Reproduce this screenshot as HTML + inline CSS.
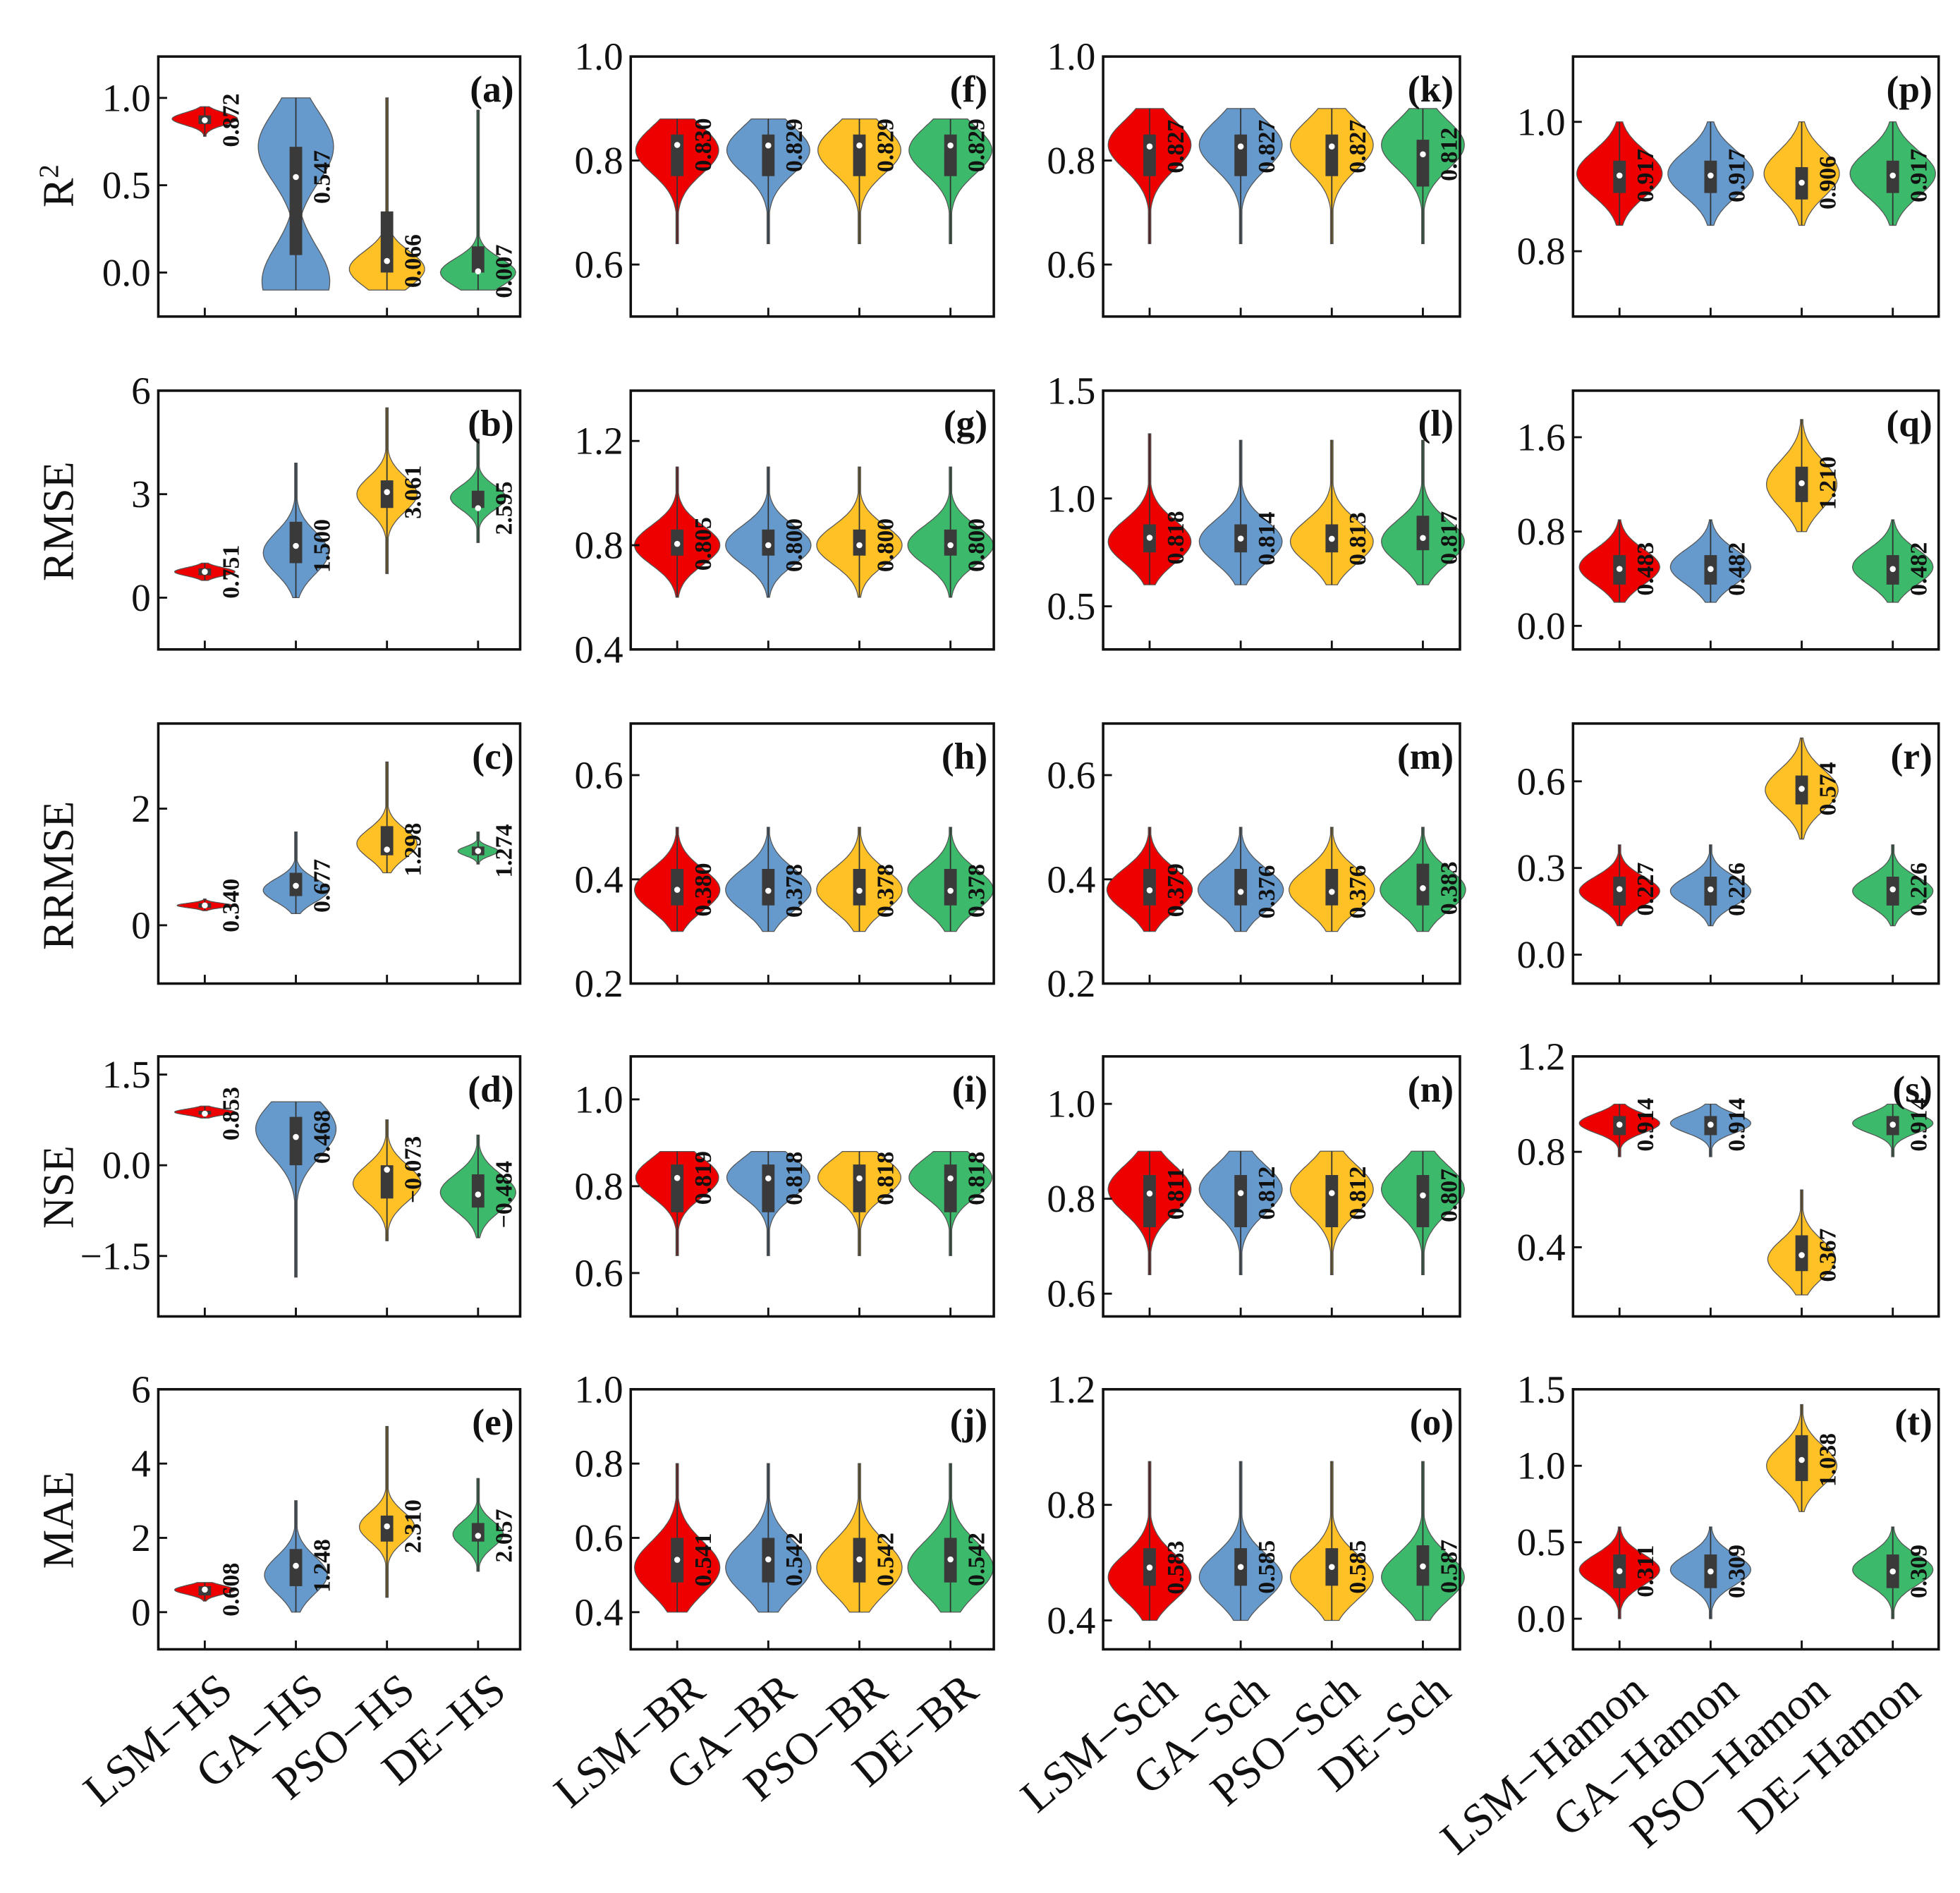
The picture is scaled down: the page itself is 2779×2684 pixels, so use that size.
<!DOCTYPE html>
<html><head><meta charset="utf-8">
<style>
html,body{margin:0;padding:0;background:#fff;}
svg{display:block;}
svg text{font-family:"Liberation Serif",serif;}
</style></head>
<body>
<svg id="chart" xmlns="http://www.w3.org/2000/svg" width="2779" height="2684" viewBox="0 0 1560 1507" preserveAspectRatio="none"></svg>
<script>
// ---- data (panels a..t, column-major) ----
const panelLetters = ["a","b","c","d","e","f","g","h","i","j","k","l","m","n","o","p","q","r","s","t"];
const metricTitles = ["R2","RMSE","RRMSE","NSE","MAE"];
const methodGroups = ["HS","BR","Sch","Hamon"];
const methods = ["LSM","GA","PSO","DE"];
const yDomains = [[-0.252,1.237],[-1.5,6],[-1,3.46],[-2.5,1.8],[-1,6],
  [0.5,1.0],[0.4,1.393],[0.2,0.699],[0.5,1.099],[0.3,1.0],
  [0.5,1.0],[0.3,1.5],[0.2,0.699],[0.552,1.1],[0.3,1.2],
  [0.699,1.101],[-0.2,1.995],[-0.1,0.8],[0.11,1.2],[-0.2,1.5]];
const yTickValues = [[0,0.5,1],[0,3,6],[0,2],[-1.5,0,1.5],[0,2,4,6],
  [0.6,0.8,1.0],[0.4,0.8,1.2],[0.2,0.4,0.6],[0.6,0.8,1.0],[0.4,0.6,0.8,1.0],
  [0.6,0.8,1.0],[0.5,1.0,1.5],[0.2,0.4,0.6],[0.6,0.8,1.0],[0.4,0.8,1.2],
  [0.8,1.0],[0,0.8,1.6],[0,0.3,0.6],[0.4,0.8,1.2],[0,0.5,1.0,1.5]];
const yTickLabels = [["0.0","0.5","1.0"],["0","3","6"],["0","2"],["\u22121.5","0.0","1.5"],["0","2","4","6"],
  ["0.6","0.8","1.0"],["0.4","0.8","1.2"],["0.2","0.4","0.6"],["0.6","0.8","1.0"],["0.4","0.6","0.8","1.0"],
  ["0.6","0.8","1.0"],["0.5","1.0","1.5"],["0.2","0.4","0.6"],["0.6","0.8","1.0"],["0.4","0.8","1.2"],
  ["0.8","1.0"],["0.0","0.8","1.6"],["0.0","0.3","0.6"],["0.4","0.8","1.2"],["0.0","0.5","1.0","1.5"]];
const mins = [[0.78,-0.1,-0.1,-0.1],[0.5,0,0.7,1.6],[0.25,0.2,0.9,1.05],[0.78,-1.85,-1.25,-1.2],[0.3,0,0.4,1.1],
  [0.64,0.64,0.64,0.64],[0.6,0.6,0.6,0.6],[0.3,0.3,0.3,0.3],[0.64,0.64,0.64,0.64],[0.4,0.4,0.4,0.4],
  [0.64,0.64,0.64,0.64],[0.6,0.6,0.6,0.6],[0.3,0.3,0.3,0.3],[0.64,0.64,0.64,0.64],[0.4,0.4,0.4,0.4],
  [0.84,0.84,0.84,0.84],[0.2,0.2,0.8,0.2],[0.1,0.1,0.4,0.1],[0.78,0.78,0.2,0.78],[0.0,0.0,0.7,0.0]];
const maxs = [[0.95,1.0,1.0,0.93],[1.0,3.9,5.5,4.6],[0.45,1.6,2.8,1.6],[0.98,1.05,0.75,0.5],[0.8,3.0,5.0,3.6],
  [0.88,0.88,0.88,0.88],[1.1,1.1,1.1,1.1],[0.5,0.5,0.5,0.5],[0.88,0.88,0.88,0.88],[0.8,0.8,0.8,0.8],
  [0.9,0.9,0.9,0.9],[1.3,1.27,1.27,1.27],[0.5,0.5,0.5,0.5],[0.9,0.9,0.9,0.9],[0.95,0.95,0.95,0.95],
  [1.0,1.0,1.0,1.0],[0.9,0.9,1.75,0.9],[0.38,0.38,0.75,0.38],[1.0,1.0,0.64,1.0],[0.6,0.6,1.4,0.6]];
const q1s = [[0.85,0.1,0.0,0.0],[0.65,1.0,2.6,2.6],[0.3,0.5,1.2,1.2],[0.84,0.0,-0.55,-0.7],[0.45,0.7,1.9,1.9],
  [0.77,0.77,0.77,0.77],[0.76,0.76,0.76,0.76],[0.35,0.35,0.35,0.35],[0.74,0.74,0.74,0.74],[0.48,0.48,0.48,0.48],
  [0.77,0.77,0.77,0.75],[0.75,0.75,0.75,0.76],[0.35,0.35,0.35,0.35],[0.74,0.74,0.74,0.74],[0.52,0.52,0.52,0.52],
  [0.89,0.89,0.88,0.89],[0.35,0.35,1.05,0.35],[0.17,0.17,0.52,0.17],[0.87,0.87,0.3,0.87],[0.2,0.2,0.9,0.2]];
const q3s = [[0.9,0.72,0.35,0.15],[0.85,2.2,3.4,3.1],[0.38,0.9,1.7,1.35],[0.9,0.8,0.0,-0.15],[0.7,1.7,2.6,2.4],
  [0.85,0.85,0.85,0.85],[0.86,0.86,0.86,0.86],[0.42,0.42,0.42,0.42],[0.85,0.85,0.85,0.85],[0.6,0.6,0.6,0.6],
  [0.85,0.85,0.85,0.84],[0.88,0.88,0.88,0.92],[0.42,0.42,0.42,0.43],[0.85,0.85,0.85,0.85],[0.65,0.65,0.65,0.66],
  [0.94,0.94,0.93,0.94],[0.6,0.6,1.35,0.6],[0.27,0.27,0.62,0.27],[0.95,0.95,0.45,0.95],[0.42,0.42,1.2,0.42]];
const medians = [[0.872,0.547,0.066,0.007],[0.751,1.5,3.061,2.595],[0.34,0.677,1.298,1.274],[0.853,0.468,-0.073,-0.484],[0.608,1.248,2.31,2.057],
  [0.83,0.829,0.829,0.829],[0.805,0.8,0.8,0.8],[0.38,0.378,0.378,0.378],[0.819,0.818,0.818,0.818],[0.541,0.542,0.542,0.542],
  [0.827,0.827,0.827,0.812],[0.818,0.814,0.813,0.817],[0.379,0.376,0.376,0.383],[0.811,0.812,0.812,0.807],[0.583,0.585,0.585,0.587],
  [0.917,0.917,0.906,0.917],[0.483,0.482,1.21,0.482],[0.227,0.226,0.574,0.226],[0.914,0.914,0.367,0.914],[0.311,0.309,1.038,0.309]];
const medianLabels = [["0.872","0.547","0.066","0.007"],["0.751","1.500","3.061","2.595"],["0.340","0.677","1.298","1.274"],["0.853","0.468","\u22120.073","\u22120.484"],["0.608","1.248","2.310","2.057"],
  ["0.830","0.829","0.829","0.829"],["0.805","0.800","0.800","0.800"],["0.380","0.378","0.378","0.378"],["0.819","0.818","0.818","0.818"],["0.541","0.542","0.542","0.542"],
  ["0.827","0.827","0.827","0.812"],["0.818","0.814","0.813","0.817"],["0.379","0.376","0.376","0.383"],["0.811","0.812","0.812","0.807"],["0.583","0.585","0.585","0.587"],
  ["0.917","0.917","0.906","0.917"],["0.483","0.482","1.210","0.482"],["0.227","0.226","0.574","0.226"],["0.914","0.914","0.367","0.914"],["0.311","0.309","1.038","0.309"]];
const modes = [[0.88,0.72,0.02,0.0],[0.75,1.3,3.0,2.9],[0.34,0.6,1.4,1.27],[0.88,0.6,-0.3,-0.45],[0.6,1.0,2.3,2.1],
  [0.82,0.82,0.82,0.82],[0.8,0.8,0.8,0.8],[0.38,0.38,0.38,0.38],[0.82,0.82,0.82,0.82],[0.52,0.52,0.52,0.52],
  [0.83,0.83,0.83,0.83],[0.8,0.8,0.8,0.8],[0.38,0.38,0.38,0.38],[0.82,0.82,0.82,0.82],[0.55,0.55,0.55,0.55],
  [0.92,0.92,0.92,0.92],[0.5,0.5,1.2,0.5],[0.22,0.22,0.57,0.22],[0.92,0.92,0.35,0.92],[0.32,0.32,1.0,0.32]];
const secondModes = [[null,-0.05,null,null],[null,null,null,null],[null,null,null,null],[null,null,null,null],[null,null,null,null],
  [null,null,null,null],[null,null,null,null],[null,null,null,null],[null,null,null,null],[null,null,null,null],
  [null,null,null,null],[null,null,null,null],[null,null,null,null],[null,null,null,null],[null,null,null,null],
  [null,null,null,null],[null,null,null,null],[null,null,null,null],[null,null,null,null],[null,null,null,null]];
const bandwidths = [[0.035,0.2,0.1,0.08],[0.12,0.6,0.5,0.35],[0.04,0.2,0.25,0.08],[0.05,0.45,0.3,0.3],[0.12,0.5,0.4,0.35],
  [0.045,0.045,0.045,0.045],[0.075,0.075,0.075,0.075],[0.04,0.04,0.04,0.04],[0.045,0.045,0.045,0.045],[0.07,0.07,0.07,0.07],
  [0.047,0.047,0.047,0.047],[0.1,0.1,0.1,0.1],[0.04,0.04,0.04,0.04],[0.05,0.05,0.05,0.05],[0.08,0.08,0.08,0.08],
  [0.035,0.035,0.035,0.035],[0.15,0.15,0.2,0.15],[0.05,0.05,0.07,0.05],[0.04,0.04,0.08,0.04],[0.1,0.1,0.13,0.1]];
const densityPeaks = [[26,30,30,30],[24,26,24,22],[22,26,24,16],[24,32,27,30],[24,25,22,20],
  [33,33,33,33],[34,34,34,34],[34,34,34,34],[33,33,33,33],[34,34,34,34],
  [33,33,33,33],[33,33,33,33],[34,34,34,34],[33,33,33,33],[33,33,33,33],
  [34,34,30,34],[32,32,28,32],[32,32,29,32],[32,32,27,32],[32,32,28,32]];

// ---- layout ----
const colX = [[126,414],[502,791],[878,1162],[1252,1543]];
const rowY = [[45,252],[311,517],[576,783],[841,1048],[1106,1313]];
const colors = ["#ee0000","#6699cc","#ffc125","#3cb96b"];
const NS = "http://www.w3.org/2000/svg";
const svg = document.getElementById("chart");
function mk(tag, attrs, parent){const e=document.createElementNS(NS,tag);for(const k in attrs)e.setAttribute(k,attrs[k]);(parent||svg).appendChild(e);return e;}

for(let p=0;p<20;p++){
  const col=Math.floor(p/5), row=p%5;
  const [L,R]=colX[col], [T,B]=rowY[row];
  const [d0,d1]=yDomains[p];
  const y=v=>B-(v-d0)/(d1-d0)*(B-T);
  const xc=i=>L+37+i*72.5;
  const g=mk("g",{});
  
  
  for(let i=0;i<4;i++){
    const cx=xc(i), mn=mins[p][i], mx=maxs[p][i], pk=modes[p][i], pk2=secondModes[p][i], bw=bandwidths[p][i], w=densityPeaks[p][i];
    const N=60, right=[], left=[];
    for(let k=0;k<=N;k++){
      const v=mn+(mx-mn)*k/N;
      let f=Math.exp(-Math.pow(v-pk,2)/(2*bw*bw));
      if(pk2!==null) f=Math.max(f,0.9*Math.exp(-Math.pow(v-pk2,2)/(2*bw*bw)));
      const hw=Math.max(w*f,1.0);
      right.push((cx+hw).toFixed(1)+","+y(v).toFixed(1));
      left.unshift((cx-hw).toFixed(1)+","+y(v).toFixed(1));
    }
    const vio=mk("path",{d:"M"+right.join(" L")+" L"+left.join(" L")+"Z",fill:colors[i],stroke:"#555","stroke-width":0.7},g);
    
    
    const wh=mk("line",{x1:cx,x2:cx,y1:y(mn),y2:y(mx),stroke:"#333","stroke-width":1},g);
    
    
    const bx=mk("rect",{x:cx-5,width:10,y:y(q3s[p][i]),height:Math.max(y(q1s[p][i])-y(q3s[p][i]),2),fill:"#3a3a3a"},g);
    
    
    const md=mk("circle",{cx:cx,cy:y(medians[p][i]),r:2.4,fill:"#fff"},g);
    
    
    const tx=cx+21, ty=y(medians[p][i]);
    const lb=mk("text",{x:tx,y:ty,transform:`rotate(-90 ${tx} ${ty})`,"text-anchor":"middle","dominant-baseline":"central","font-size":19,"font-weight":"bold",fill:"#111"},g);
    lb.textContent=medianLabels[p][i];
    
    
    const xt=mk("line",{x1:cx,x2:cx,y1:B,y2:B-7,stroke:"#111","stroke-width":1.6},g);
    
    
  }
  const fr=mk("rect",{x:L,y:T,width:R-L,height:B-T,fill:"none",stroke:"#111","stroke-width":2},g);
  
  
  yTickValues[p].forEach((v,j)=>{
    const yy=y(v);
    const t=mk("line",{x1:L,x2:L+7,y1:yy,y2:yy,stroke:"#111","stroke-width":1.6},g);
    
    
    const tl=mk("text",{x:L-6,y:yy,"text-anchor":"end","dominant-baseline":"central","font-size":31,fill:"#111"},g);
    tl.textContent=yTickLabels[p][j];
    
    
  });
  const pl=mk("text",{x:R-5,y:T+36,"text-anchor":"end","font-size":30,"font-weight":"bold",fill:"#111"},g);
  pl.textContent="("+panelLetters[p]+")";
  
  
  if(row===4){
    for(let i=0;i<4;i++){
      const ex=xc(i)+24, ey=B+36;
      const xl=mk("text",{x:ex,y:ey,transform:`rotate(-40 ${ex} ${ey})`,"text-anchor":"end","font-size":36,fill:"#111"},g);
      xl.textContent=methods[i]+"\u2212"+methodGroups[col];
      
      
    }
  }
}
const titleY=[148,415,697,945,1210];
metricTitles.forEach((m,r)=>{
  const tx=58, ty=titleY[r];
  const t=mk("text",{x:tx,y:ty,transform:`rotate(-90 ${tx} ${ty})`,"text-anchor":"middle","font-size":35,fill:"#111"});
  if(m==="R2"){t.textContent="R";const s=mk("tspan",{dy:-12,"font-size":22},t);s.textContent="2";}
  else t.textContent=m;
  
  
});
</script>
</body></html>
